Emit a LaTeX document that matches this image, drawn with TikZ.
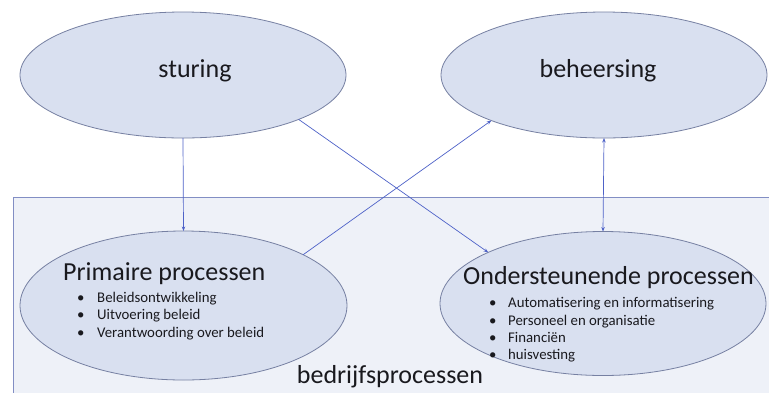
\documentclass[tikz,border=0pt]{standalone}
\usepackage{fontspec}
\setmainfont{Carlito}
\usetikzlibrary{arrows.meta,shapes.geometric}
\definecolor{ellfill}{RGB}{217,224,240}
\definecolor{elldraw}{RGB}{118,128,162}
\definecolor{rectfill}{RGB}{238,241,248}
\definecolor{rectdraw}{RGB}{130,142,196}
\definecolor{arrowcol}{RGB}{78,98,200}
\definecolor{txt}{RGB}{25,25,30}
\begin{document}
\begin{tikzpicture}[x=1pt,y=-1pt,
  ell/.style={ellipse, draw=elldraw, fill=ellfill, line width=0.8pt, inner sep=0pt, outer sep=0pt},
  bigtxt/.style={font=\fontsize{26}{28}\selectfont, text=txt, inner sep=0pt},
  itemtxt/.style={font=\fontsize{14.8}{17}\selectfont, text=txt, inner sep=0pt, anchor=base west},
  conn/.style={draw=arrowcol, line width=0.7pt, -{Stealth[length=4.5pt,width=3.5pt]}},
  conn2/.style={draw=arrowcol, line width=0.7pt, {Stealth[length=4.5pt,width=3.5pt]}-{Stealth[length=4.5pt,width=3.5pt]}}]
\clip (0,0) rectangle (769,392);
\fill[white] (0,0) rectangle (769,392);
% outer rectangle
\node[draw=rectdraw, fill=rectfill, line width=0.7pt, minimum width=800pt, minimum height=260pt, anchor=north west, inner sep=0pt, outer sep=0pt] (bp) at (13,197) {};
% ellipses
\node[ell, minimum width=326pt, minimum height=126pt] (stur) at (183,75) {};
\node[ell, minimum width=326pt, minimum height=126pt] (beh) at (604,75) {};
\node[ell, minimum width=327pt, minimum height=149pt] (prim) at (183.5,305.5) {};
\node[ell, minimum width=326pt, minimum height=144pt] (ond) at (603,303.5) {};
% texts
\node[bigtxt, anchor=base] (sturt) at (195,77) {sturing};
\node[bigtxt, anchor=base] (beht) at (598,77) {beheersing};
\node[bigtxt, anchor=base west] (primt) at (63,280) {Primaire processen};
\node[bigtxt, anchor=base west] (ondt) at (463,284) {Ondersteunende processen};
\node[bigtxt, anchor=base] (bpt) at (390,383) {bedrijfsprocessen};
% primaire items
\node[itemtxt] (pb1) at (77,302) {•};
\node[itemtxt] (p1) at (97,302) {Beleidsontwikkeling};
\node[itemtxt] (pb2) at (77,319.5) {•};
\node[itemtxt] (p2) at (97,319.5) {Uitvoering beleid};
\node[itemtxt] (pb3) at (77,337) {•};
\node[itemtxt] (p3) at (97,337) {Verantwoording over beleid};
% ondersteunende items
\node[itemtxt] (ob1) at (489,307.5) {•};
\node[itemtxt] (o1) at (508,307.5) {Automatisering en informatisering};
\node[itemtxt] (ob2) at (489,325) {•};
\node[itemtxt] (o2) at (508,325) {Personeel en organisatie};
\node[itemtxt] (ob3) at (489,342) {•};
\node[itemtxt] (o3) at (508,342) {Financiën};
\node[itemtxt] (ob4) at (489,359.5) {•};
\node[itemtxt] (o4) at (508,359.5) {huisvesting};
% connectors
\draw[conn] (stur.south) -- (prim.north);
\draw[conn] (stur.-21.6) -- (ond.156.7);
\draw[conn] (prim.23.9) -- (beh.-158.2);
\draw[conn2] (beh.south) -- (ond.north);
\end{tikzpicture}
\end{document}
